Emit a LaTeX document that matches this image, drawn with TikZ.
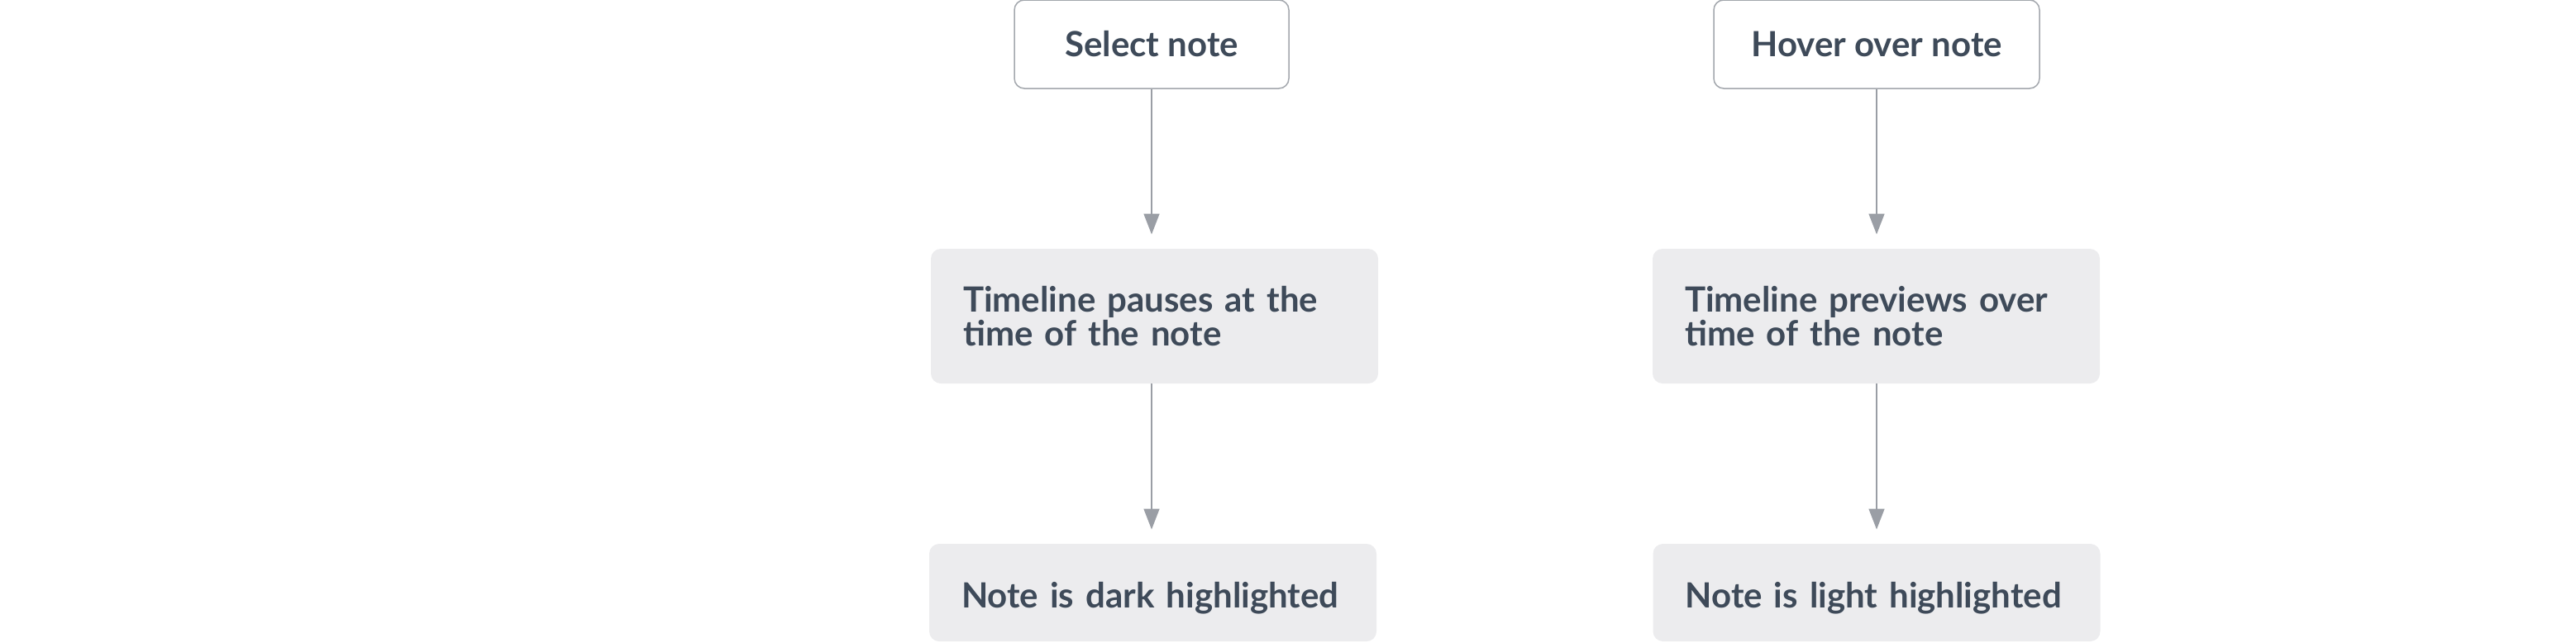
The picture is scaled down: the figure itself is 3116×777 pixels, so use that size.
\documentclass[tikz,border=0pt]{standalone}
\usepackage{fontspec}
\setmainfont{Lato}[UprightFont=* Bold]
\usetikzlibrary{arrows.meta}
\definecolor{txt}{HTML}{3E4A59}
\definecolor{boxgray}{HTML}{ECECEE}
\definecolor{edge}{HTML}{A3A7AD}
\definecolor{arrowc}{HTML}{9A9EA5}
\tikzset{
  startbox/.style={draw=edge, line width=0.75pt, fill=white, rounded corners=6pt,
    minimum height=53.5pt, inner sep=0pt, text=txt, font=\fontsize{21}{20}\selectfont},
  stepbox/.style={fill=boxgray, rounded corners=6pt, inner xsep=19.5pt, inner ysep=0pt,
    text width=231.5pt, align=left, text=txt, font=\fontsize{21}{20.2}\selectfont},
  endbox/.style={stepbox, text height=18pt, text depth=0pt},
  flow/.style={draw=arrowc, line width=0.75pt, shorten >=8.5pt,
    -{Triangle[length=12.5pt,width=9.5pt,fill=arrowc]}},
}
\begin{document}
\begin{tikzpicture}[x=0.5pt,y=-0.5pt]
\useasboundingbox (0,0) rectangle (3116,777);
\node[startbox, minimum width=166pt] (s1) at (1393,53.5) {Select note};
\node[startbox, minimum width=197pt] (h1) at (2270,53.5) {Hover over note};
\node[stepbox, minimum height=81.5pt] (s2) at (1396.5,382.5) {Timeline pauses at the\\time of the note};
\node[stepbox, minimum height=81.5pt] (h2) at (2269.5,382.5) {Timeline previews over\\time of the note};
\node[endbox, minimum height=59pt] (s3) at (1394.5,717) {Note is dark highlighted};
\node[endbox, minimum height=59pt] (h3) at (2270,717) {Note is light highlighted};
\draw[flow] (s1.south) -- (s1.south |- s2.north);
\draw[flow] (h1.south) -- (h1.south |- h2.north);
\draw[flow] (s1.south |- s2.south) -- (s1.south |- s3.north);
\draw[flow] (h1.south |- h2.south) -- (h1.south |- h3.north);
\end{tikzpicture}
\end{document}
